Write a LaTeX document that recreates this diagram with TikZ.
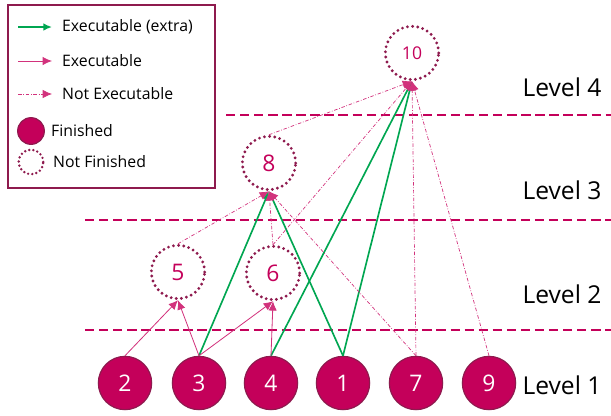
\documentclass[tikz,border=0pt]{standalone}
\usepackage{fontspec}
\setmainfont{Open Sans}
\usetikzlibrary{arrows.meta}

\definecolor{berry}{HTML}{C4005A}
\definecolor{berrydark}{HTML}{8E1A4E}
\definecolor{berryline}{HTML}{D2327C}
\definecolor{execgreen}{HTML}{00A651}

\tikzset{
    done/.style={circle, fill=berry, draw=berrydark, line width=1pt, minimum size=1.6cm, text=white, font=\fontsize{19.5}{19.5}\selectfont},
    todo/.style={circle, draw=berrydark, line width=2.7pt, dash pattern=on 0pt off 4.4pt, line cap=round, minimum size=1.6cm, text=berry, font=\fontsize{19.5}{19.5}\selectfont},
    extra/.style={-{Latex[length=2.6mm,width=2.3mm]}, execgreen, line width=1.4pt},
    exec/.style={-{Latex[length=2.8mm,width=2.5mm]}, berryline, line width=0.7pt},
    noexec/.style={-{Latex[length=2.8mm,width=2.5mm]}, berryline, line width=0.6pt, dash pattern=on 3pt off 1.5pt on 0.6pt off 1.5pt},
    levelsep/.style={berry, line width=1.8pt, dash pattern=on 8pt off 4pt},
    levellabel/.style={font=\fontsize{21}{21}\selectfont},
    legendtext/.style={anchor=west, font=\fontsize{13.5}{13.5}\selectfont}
}

\begin{document}
\begin{tikzpicture}[x=0.03cm, y=-0.03cm]
    \useasboundingbox (0,0) rectangle (611,415);

    % Legend
    \draw[berrydark, line width=1.6pt] (8,5) rectangle (215,188);
    \coordinate (la1) at (18,27);  \coordinate (lb1) at (52,27);
    \coordinate (la2) at (18,61);  \coordinate (lb2) at (52,61);
    \coordinate (la3) at (18,94);  \coordinate (lb3) at (52,94);
    \draw[extra] (la1) -- (lb1);
    \draw[exec] (la2) -- (lb2);
    \draw[noexec] (la3) -- (lb3);
    \node[legendtext] (t1) at (58,27) {Executable (extra)};
    \node[legendtext] (t2) at (58,61) {Executable};
    \node[legendtext] (t3) at (58,94) {Not Executable};
    \node[done, minimum size=0.8cm] (lf) at (31,131) {};
    \node[todo, minimum size=0.74cm, line width=2.3pt, dash pattern=on 0pt off 3.6pt] (lnf) at (31,162) {};
    \node[legendtext] (t4) at (47,131) {Finished};
    \node[legendtext] (t5) at (49,162) {Not Finished};

    % Level separators
    \draw[levelsep] (226,115) -- (611,115);
    \draw[levelsep] (85,220) -- (611,220);
    \draw[levelsep] (85,330) -- (611,330);

    % Level labels
    \node[levellabel] (lv4) at (562,87) {Level 4};
    \node[levellabel] (lv3) at (562,190) {Level 3};
    \node[levellabel] (lv2) at (562,294) {Level 2};
    \node[levellabel] (lv1) at (562,385) {Level 1};

    % Level 1: finished
    \node[done] (n2) at (125,383) {2};
    \node[done] (n3) at (199,383) {3};
    \node[done] (n4) at (271,383) {4};
    \node[done] (n1) at (343,383) {1};
    \node[done] (n7) at (416,383) {7};
    \node[done] (n9) at (489,383) {9};

    % Levels 2-4: not finished
    \node[todo] (n5) at (178,272) {5};
    \node[todo] (n6) at (273,273) {6};
    \node[todo] (n8) at (269,163) {8};
    \node[todo, font=\fontsize{15}{15}\selectfont] (n10) at (412,53) {10};

    % Executable (extra)
    \draw[extra] (n3.north) -- (n8.south);
    \draw[extra] (n1.north) -- (n8.south);
    \draw[extra] (n4.north) -- (n10.south);
    \draw[extra] (n1.north) -- (n10.south);

    % Executable
    \draw[exec] (n2.north) -- (n5.south);
    \draw[exec] (n3.north) -- (n5.south);
    \draw[exec] (n3.north) -- (n6.south);
    \draw[exec] (n4.north) -- (n6.south);

    % Not executable
    \draw[noexec] (n5.north) -- (n8.south);
    \draw[noexec] (n6.north) -- (n8.south);
    \draw[noexec] (n7.north) -- (n8.south);
    \draw[noexec] (n8.north) -- (n10.south);
    \draw[noexec] (n6.north) -- (n10.south);
    \draw[noexec] (n7.north) -- (n10.south);
    \draw[noexec] (n9.north) -- (n10.south);
\end{tikzpicture}
\end{document}
